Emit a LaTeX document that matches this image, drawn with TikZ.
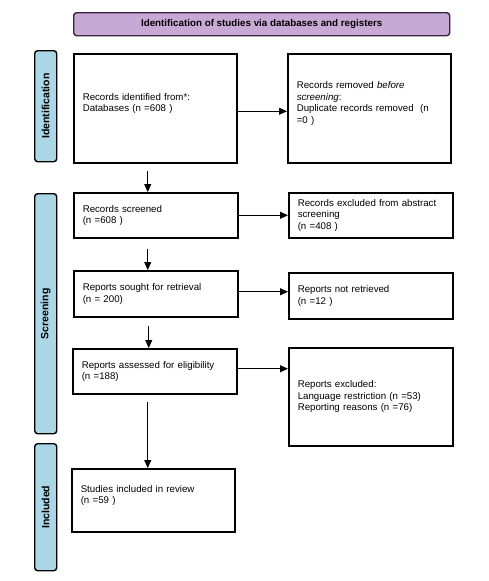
\documentclass[tikz,border=0pt]{standalone}
\usepackage{fontspec}
\setmainfont{Liberation Sans}
\usepackage{tikz}
\usetikzlibrary{arrows.meta,positioning,calc}
\usepackage{xcolor}
\definecolor{bannerfill}{HTML}{C8A9D5}
\definecolor{bannerline}{HTML}{33263A}
\definecolor{phasefill}{HTML}{AAD6E6}

\begin{document}
\begin{tikzpicture}[
    x=1pt, y=-1pt,
    arr/.style={-{Triangle[length=8pt,width=7pt]}, line width=0.8pt},
    stage/.style={draw, line width=1.5pt, rectangle, anchor=north west,
      align=left, inner xsep=9pt, inner ysep=0pt,
      font=\fontsize{9.7}{11.5}\selectfont},
    phase/.style={draw=black, line width=1.4pt, fill=phasefill,
      rounded corners=3pt, anchor=north west, minimum width=22pt,
      inner sep=0pt},
    phaselabel/.style={rotate=90, font=\fontsize{10.5}{12}\selectfont\bfseries},
  ]
  \useasboundingbox (0,0) rectangle (488,581);

  % Banner
  \node[draw=bannerline, line width=1.4pt, fill=bannerfill, rounded corners=3pt,
        anchor=north west, minimum width=376pt, minimum height=23pt,
        font=\fontsize{9.8}{11}\selectfont\bfseries] (banner) at (73,12)
    {Identification of studies via databases and registers};

  % Phase bars
  \node[phase, minimum height=111pt] (ident) at (34,50) {};
  \node[phaselabel] at (ident.center) {Identification};
  \node[phase, minimum height=240pt] (screen) at (34,193) {};
  \node[phaselabel] at (screen.center) {Screening};
  \node[phase, minimum height=127pt] (incl) at (34,443) {};
  \node[phaselabel] at (incl.center) {Included};

  % Left column
  \node[stage, text width=145pt, minimum height=109pt] (found) at (73,53)
    {Records identified from*:\\Databases (n =608 )\\\mbox{}};
  \node[stage, text width=146pt, minimum height=45pt] (screened) at (73,192)
    {Records screened\\(n =608 )};
  \node[stage, text width=146pt, minimum height=46pt] (sought) at (73,270)
    {Reports sought for retrieval\\(n = 200)};
  \node[stage, text width=146pt, minimum height=45pt] (assessed) at (72,348)
    {Reports assessed for eligibility\\(n =188)};
  \node[stage, text width=145pt, minimum height=63pt] (included) at (71,468)
    {Studies included in review\\(n =59 )\\\mbox{}};

  % Right column
  \node[stage, text width=145pt, minimum height=109pt] (removed) at (287,53)
    {Records removed \textit{before}\\\textit{screening}:\\Duplicate records removed\ \ (n\\=0 )\\\mbox{}};
  \node[stage, text width=146pt, minimum height=45pt] (excl) at (288,192)
    {Records excluded from abstract\\screening\\(n =408 )};
  \node[stage, text width=146pt, minimum height=46pt] (notret) at (288,272)
    {Reports not retrieved\\(n =12 )};
  \node[stage, text width=146pt, minimum height=98pt] (rejected) at (288,347)
    {Reports excluded:\\Language restriction (n =53)\\Reporting reasons (n =76)};

  % Side arrows
  \draw[arr] ([yshift=-3pt]found.east) -- ([yshift=-3pt]found.east -| removed.west);
  \draw[arr] (screened.east) -- (screened.east -| excl.west);
  \draw[arr] ([yshift=2pt]sought.east) -- ([yshift=2pt]sought.east -| notret.west);
  \draw[arr] ([yshift=2.5pt]assessed.east) -- ([yshift=2.5pt]assessed.east -| rejected.west);

  % Down arrows
  \draw[arr] ([xshift=-7.5pt,yshift=-7pt]found.south) -- ([xshift=-7.5pt]found.south |- screened.north);
  \draw[arr] ([xshift=-8pt,yshift=-10pt]screened.south) -- ([xshift=-8pt]screened.south |- sought.north);
  \draw[arr] ([xshift=-7pt,yshift=-8pt]sought.south) -- ([xshift=-7pt]sought.south |- assessed.north);
  \draw[arr] ([xshift=-7pt,yshift=-7pt]assessed.south) -- ([xshift=-7pt]assessed.south |- included.north);

\end{tikzpicture}
\end{document}
